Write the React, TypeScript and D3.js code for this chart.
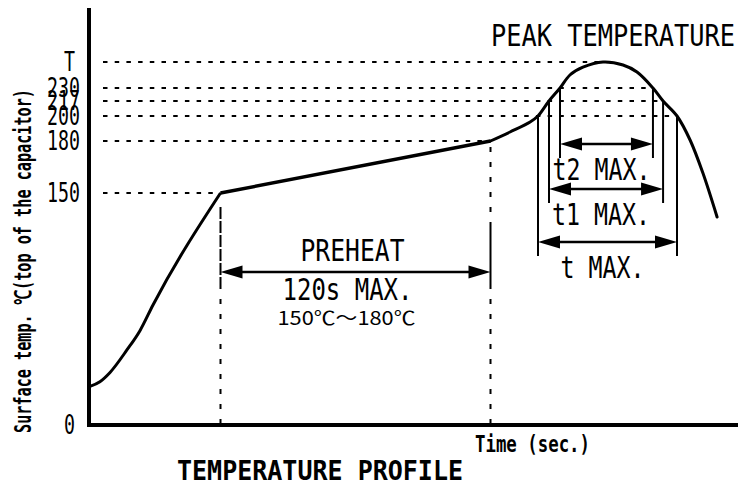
import * as d3 from 'd3';

// y axis: schematic temperature levels (T = peak)
const tickLabels = ['T', '230', '217', '200', '180', '150', '0'];
const tickValues = [250, 230, 217, 200, 180, 150, 0];

// reflow profile (time in s, temp in °C)
const profileTime = [0, 4.4, 8.9, 16.4, 22.2, 28, 58, 178, 186.7, 195.6, 199.1, 204, 208.9, 213.3, 219.1, 228, 236.9, 243.1, 250.2, 254.7, 260.9, 266.7, 272.4, 278.7];
const profileTemp = [25, 28, 34, 48.5, 61, 77.6, 150, 180, 187.2, 195.2, 200, 217, 230, 240, 246, 250, 247.7, 242.3, 230, 217, 200, 180.8, 161.5, 134.5];

// time-above-level zones
const zoneLabels = ['t MAX.', 't1 MAX.', 't2 MAX.'];
const zoneLevels = [200, 217, 230];

const preheatFrom = 150;
const preheatTo = 180;
const preheatTitle = 'PREHEAT';
const preheatTime = '120s MAX.';
const preheatRange = '150℃～180℃';

const W = 738;
const H = 488;
const MONO = '"DejaVu Sans Mono", monospace';

const points = profileTime.map((t, i) => ({ t, v: profileTemp[i] }));

function firstAt(level: number) {
  const i = points.findIndex(p => p.v >= level);
  if (i <= 0) return points[0].t;
  const a = points[i - 1], b = points[i];
  return a.t + (level - a.v) / (b.v - a.v) * (b.t - a.t);
}

function lastAt(level: number) {
  let i = -1;
  points.forEach((p, k) => { if (p.v >= level) i = k; });
  if (i === points.length - 1) return points[i].t;
  const a = points[i], b = points[i + 1];
  return a.t + (a.v - level) / (a.v - b.v) * (b.t - a.t);
}

function DimArrow({ x1, x2, y }: { x1: number; x2: number; y: number }) {
  const L = 22, h = 6.5;
  return (
    <g>
      <line x1={x1 + L - 2} x2={x2 - L + 2} y1={y} y2={y} stroke="#000" strokeWidth={2.5} />
      <path d={`M${x1},${y}L${x1 + L},${y - h}L${x1 + L},${y + h}Z`} fill="#000" />
      <path d={`M${x2},${y}L${x2 - L},${y - h}L${x2 - L},${y + h}Z`} fill="#000" />
    </g>
  );
}

export default function App() {
  const x = d3.scaleLinear().domain([0, 288]).range([90, 738]);
  // the drawing is not to scale: piecewise scale through the labelled levels
  const y = d3.scaleLinear()
    .domain([0, 150, 180, 200, 217, 230, 250])
    .range([425, 193, 141, 116, 101, 88, 62]);

  const line = d3.line<{ t: number; v: number }>().x(d => x(d.t)).y(d => y(d.v));
  const tStart = firstAt(preheatFrom);
  const tEnd = firstAt(preheatTo);
  const ramp = points.filter(p => p.t <= tStart);
  const soak = points.filter(p => p.t >= tStart && p.t <= tEnd);
  const reflow = points.filter(p => p.t >= tEnd);

  const axisY = y(0);
  const axisX = x(0);
  const zoneArrowY = [242, 189, 144];
  const preheatArrowY = 272;
  const px1 = x(tStart), px2 = x(tEnd);
  const pmid = (px1 + px2) / 2;

  return (
    <div style={{ position: 'absolute', left: 0, top: 0 }}>
      <svg width={W} height={H} style={{ display: 'block', background: '#fff' }}>
        {/* horizontal level guides */}
        {tickValues.filter(v => v > 0).map(v => {
          const tx = v > preheatTo ? lastAt(v) : firstAt(v);
          return (
            <line key={'h' + v} x1={axisX + 13} x2={x(tx)} y1={y(v)} y2={y(v)}
              stroke="#000" strokeWidth={2.2} strokeDasharray="4.5 7.2" />
          );
        })}

        {/* tick labels */}
        {tickValues.map((v, i) => {
          const lab = tickLabels[i];
          return (
            <text key={'t' + v} x={lab.length === 1 ? 75 : 80} y={y(v) + 9} textAnchor="end"
              fontFamily={MONO} fontSize={26} textLength={11 * lab.length} lengthAdjust="spacingAndGlyphs">
              {lab}
            </text>
          );
        })}

        {/* preheat guides */}
        <line x1={px1} x2={px1} y1={y(preheatFrom) + 14} y2={preheatArrowY + 12} stroke="#000" strokeWidth={2} strokeDasharray="12 2" />
        <line x1={px1} x2={px1} y1={preheatArrowY + 12} y2={axisY} stroke="#000" strokeWidth={2} strokeDasharray="5 10" />
        <line x1={px2} x2={px2} y1={y(preheatTo) + 6} y2={preheatArrowY - 45} stroke="#000" strokeWidth={2} strokeDasharray="5 10" />
        <line x1={px2} x2={px2} y1={preheatArrowY - 45} y2={preheatArrowY + 12} stroke="#000" strokeWidth={2} />
        <line x1={px2} x2={px2} y1={preheatArrowY + 12} y2={axisY} stroke="#000" strokeWidth={2} strokeDasharray="5 10" />
        <DimArrow x1={px1} x2={px2} y={preheatArrowY} />
        <text x={pmid - 3} y={preheatArrowY - 11} textAnchor="middle" fontFamily={MONO} fontSize={31}
          textLength={104} lengthAdjust="spacingAndGlyphs">{preheatTitle}</text>
        <text x={pmid - 8} y={preheatArrowY + 28} textAnchor="middle" fontFamily={MONO} fontSize={30}
          textLength={130} lengthAdjust="spacingAndGlyphs">{preheatTime}</text>
        <text x={pmid - 9} y={preheatArrowY + 53} textAnchor="middle" fontFamily='"Noto Sans CJK JP", sans-serif' fontSize={19}
          textLength={138} lengthAdjust="spacingAndGlyphs">{preheatRange}</text>

        {/* time-above-level zones */}
        {zoneLevels.map((lv, i) => {
          const a = x(firstAt(lv)), b = x(lastAt(lv));
          const ay = zoneArrowY[i];
          const lab = zoneLabels[i];
          return (
            <g key={'z' + lv}>
              <line x1={a} x2={a} y1={y(lv)} y2={ay + 14} stroke="#000" strokeWidth={2} />
              <line x1={b} x2={b} y1={y(lv)} y2={ay + 14} stroke="#000" strokeWidth={2} />
              <DimArrow x1={a} x2={b} y={ay} />
              <text x={(a + b) / 2 - 5} y={ay + 36} textAnchor="middle" fontFamily={MONO} fontSize={30}
                textLength={14 * lab.length} lengthAdjust="spacingAndGlyphs">{lab}</text>
            </g>
          );
        })}

        {/* profile */}
        <path d={d3.line<{ t: number; v: number }>().x(d => x(d.t)).y(d => y(d.v)).curve(d3.curveMonotoneX)(ramp) || ''}
          fill="none" stroke="#000" strokeWidth={3} />
        <path d={line(soak) || ''} fill="none" stroke="#000" strokeWidth={3.5} />
        <path d={d3.line<{ t: number; v: number }>().x(d => x(d.t)).y(d => y(d.v)).curve(d3.curveCatmullRom)(reflow) || ''}
          fill="none" stroke="#000" strokeWidth={3} strokeLinecap="round" />

        {/* axes */}
        <line x1={axisX - 1} x2={axisX - 1} y1={8} y2={axisY + 2} stroke="#000" strokeWidth={4} />
        <line x1={axisX - 3} x2={W} y1={axisY} y2={axisY} stroke="#000" strokeWidth={4} />

        <text x={491} y={46} fontFamily={MONO} fontSize={31} textLength={244} lengthAdjust="spacingAndGlyphs">PEAK TEMPERATURE</text>
        <text x={475} y={452} fontFamily={MONO} fontWeight="bold" fontSize={23} textLength={115} lengthAdjust="spacingAndGlyphs">Time (sec.)</text>
        <text x={177} y={480} fontFamily={MONO} fontWeight="bold" fontSize={27} textLength={286} lengthAdjust="spacingAndGlyphs">TEMPERATURE PROFILE</text>
        <text transform="translate(31,261) rotate(-90)" textAnchor="middle" fontFamily={MONO} fontWeight="bold" fontSize={23}
          textLength={344} lengthAdjust="spacingAndGlyphs">Surface temp. ℃(top of the capacitor)</text>
      </svg>
    </div>
  );
}
